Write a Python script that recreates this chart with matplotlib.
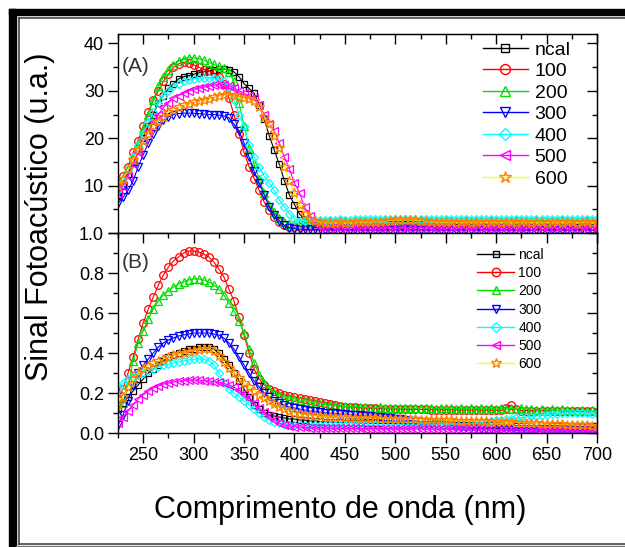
import numpy as np
import matplotlib.pyplot as plt
from matplotlib.lines import Line2D
from matplotlib.patches import Rectangle
from matplotlib.ticker import MultipleLocator

plt.rcParams['font.family'] = ['Liberation Sans', 'DejaVu Sans']

# wavelength grid (nm), one point every 5 nm
wl = np.arange(225, 701, 5)
labels = ['ncal', '100', '200', '300', '400', '500', '600']

# ---- panel (A) ----
ncal_A = [8.0, 10.0, 12.5, 15.0, 17.5, 20.0, 22.5, 25.0, 27.5, 29.0, 30.5, 31.5, 32.5, 33.0, 33.2, 33.5,
          33.8, 34.0, 34.2, 34.5, 34.6, 34.6, 34.4, 34.0, 33.0, 31.5, 30.5, 29.5, 27.0, 24.0, 20.5, 17.5,
          14.5, 11.0, 8.0, 6.0, 4.0, 3.0, 2.2, 1.8,
          1.8, 1.7, 1.7, 1.8, 1.7, 1.8, 1.8, 1.7, 1.8, 1.9, 1.8, 1.9, 1.9, 1.8, 1.9, 2.0,
          1.9, 2.0, 1.9, 1.9, 1.8, 1.9, 1.9, 1.8, 1.9, 1.9, 1.8, 1.8, 1.9, 1.8, 1.9, 1.8,
          1.8, 1.9, 1.8, 1.8, 1.9, 1.8, 1.8, 1.9, 1.8, 1.8, 1.9, 1.8, 1.8, 1.9, 1.8, 1.8,
          1.8, 1.9, 1.8, 1.8, 1.8, 1.9, 1.8, 1.8]
c100_A = [10.5, 12.0, 14.0, 17.0, 19.5, 22.5, 25.5, 28.0, 30.0, 32.0, 33.5, 35.0, 35.7, 36.0, 35.8, 35.5,
          35.0, 34.5, 34.2, 33.8, 33.0, 31.5, 28.5, 25.0, 21.0, 17.0, 14.0, 11.5, 9.0, 6.5, 4.8, 3.3,
          2.3, 1.6, 1.2, 1.2, 1.3, 1.4, 1.5, 1.5,
          1.5, 1.5, 1.4, 1.5, 1.5, 1.4, 1.5, 1.5, 1.5, 1.4, 1.5, 1.5, 1.5, 1.6, 1.5, 1.5,
          1.6, 1.5, 1.5, 1.6, 1.5, 1.5, 1.5, 1.6, 1.5, 1.5, 1.5, 1.5, 1.6, 1.5, 1.5, 1.5,
          1.5, 1.6, 1.5, 1.5, 1.5, 1.5, 1.6, 1.5, 1.5, 1.5, 1.5, 1.6, 1.5, 1.5, 1.5, 1.5,
          1.6, 1.5, 1.5, 1.5, 1.5, 1.6, 1.5, 1.5]
c200_A = [9.5, 11.5, 13.5, 16.0, 19.0, 22.0, 25.0, 28.0, 31.0, 33.0, 34.5, 35.5, 36.3, 36.8, 37.0, 37.0,
          36.8, 36.5, 36.0, 35.6, 35.2, 34.8, 34.0, 32.0, 27.5, 22.5, 18.0, 14.5, 11.5, 8.5, 6.0, 4.5,
          3.2, 2.4, 2.0, 2.0, 2.1, 2.2, 2.3, 2.3,
          2.4, 2.4, 2.5, 2.4, 2.5, 2.5, 2.4, 2.5, 2.5, 2.6, 2.5, 2.6, 2.6, 2.6, 2.7, 2.6,
          2.7, 2.7, 2.6, 2.6, 2.7, 2.6, 2.6, 2.6, 2.6, 2.7, 2.6, 2.6, 2.6, 2.7, 2.6, 2.6,
          2.6, 2.6, 2.7, 2.6, 2.6, 2.6, 2.6, 2.7, 2.6, 2.6, 2.6, 2.7, 2.6, 2.6, 2.6, 2.6,
          2.7, 2.6, 2.6, 2.6, 2.6, 2.7, 2.6, 2.6]
c300_A = [6.3, 7.5, 9.0, 11.0, 14.0, 16.5, 19.0, 21.0, 22.5, 23.8, 24.5, 25.0, 25.2, 25.3, 25.3, 25.3,
          25.2, 25.1, 25.0, 25.0, 24.9, 24.7, 24.3, 23.0, 21.5, 19.0, 16.0, 13.0, 10.5, 8.0, 5.5, 3.8,
          2.6, 1.6, 1.1, 0.9, 0.8, 0.8, 0.8, 0.8,
          0.8, 0.7, 0.7, 0.8, 0.7, 0.7, 0.7, 0.8, 0.7, 0.7, 0.7, 0.7, 0.8, 0.7, 0.7, 0.7,
          0.7, 0.8, 0.7, 0.7, 0.7, 0.7, 0.7, 0.8, 0.7, 0.7, 0.7, 0.7, 0.7, 0.8, 0.7, 0.7,
          0.7, 0.7, 0.7, 0.8, 0.7, 0.7, 0.7, 0.7, 0.8, 0.7, 0.7, 0.7, 0.7, 0.7, 0.8, 0.7,
          0.7, 0.7, 0.7, 0.7, 0.8, 0.7, 0.7, 0.7]
c400_A = [9.0, 11.0, 13.5, 16.0, 18.5, 21.0, 23.5, 25.5, 27.5, 29.0, 30.0, 31.0, 31.5, 32.0, 32.3, 32.5,
          32.7, 32.8, 32.8, 32.7, 32.5, 32.0, 30.5, 28.0, 25.0, 22.5, 18.5, 16.0, 14.0, 12.0, 10.5, 9.0,
          7.0, 5.5, 4.0, 3.0, 2.6, 2.6, 2.7, 2.7,
          2.7, 2.8, 2.8, 2.8, 2.9, 2.8, 2.8, 2.9, 2.9, 2.9, 2.9, 3.0, 2.9, 3.0, 3.0, 2.9,
          3.0, 3.0, 2.9, 3.0, 3.0, 2.9, 3.0, 3.0, 2.9, 3.0, 3.0, 3.0, 2.9, 3.0, 3.0, 2.9,
          3.0, 3.0, 3.0, 2.9, 3.0, 3.0, 2.9, 3.0, 3.0, 3.0, 2.9, 3.0, 3.0, 3.0, 2.9, 3.0,
          3.0, 2.9, 3.0, 3.0, 3.0, 2.9, 3.0, 3.0]
c500_A = [8.5, 10.0, 12.0, 14.5, 17.0, 19.5, 21.5, 23.5, 25.0, 26.5, 27.5, 28.5, 29.0, 29.5, 30.0, 30.3,
          30.6, 30.8, 31.0, 31.2, 31.3, 31.3, 31.0, 30.6, 30.0, 29.5, 29.0, 28.5, 27.0, 25.0, 23.0, 21.5,
          19.0, 16.0, 13.5, 10.5, 8.5, 5.5, 3.5, 2.2,
          1.2, 1.1, 1.1, 1.2, 1.1, 1.1, 1.1, 1.2, 1.1, 1.1, 1.2, 1.1, 1.1, 1.1, 1.2, 1.1,
          1.1, 1.2, 1.1, 1.1, 1.1, 1.1, 1.2, 1.1, 1.1, 1.1, 1.2, 1.1, 1.1, 1.2, 1.1, 1.1,
          1.2, 1.1, 1.1, 1.1, 1.2, 1.1, 1.1, 1.2, 1.1, 1.1, 1.2, 1.1, 1.2, 1.1, 1.1, 1.2,
          1.1, 1.2, 1.1, 1.1, 1.2, 1.1, 1.2, 1.1]
c600_A = [10.0, 11.5, 13.5, 15.5, 17.5, 19.5, 21.0, 22.5, 23.5, 24.5, 25.5, 26.0, 26.5, 27.0, 27.3, 27.6,
          27.8, 28.0, 28.3, 28.6, 29.0, 29.2, 29.2, 29.0, 28.7, 28.5, 28.3, 27.8, 26.5, 24.5, 23.0, 20.5,
          18.0, 14.0, 11.0, 8.5, 6.0, 4.0, 3.0, 2.5,
          2.3, 2.2, 2.2, 2.2, 2.3, 2.2, 2.2, 2.3, 2.3, 2.3, 2.3, 2.4, 2.4, 2.5, 2.6, 2.7,
          2.8, 2.8, 2.8, 2.7, 2.6, 2.5, 2.4, 2.3, 2.3, 2.3, 2.3, 2.2, 2.3, 2.3, 2.2, 2.3,
          2.3, 2.2, 2.3, 2.3, 2.2, 2.3, 2.3, 2.2, 2.3, 2.3, 2.2, 2.3, 2.3, 2.2, 2.3, 2.3,
          2.2, 2.3, 2.3, 2.2, 2.3, 2.3, 2.2, 2.3]

# ---- panel (B) ----
ncal_B = [0.12, 0.15, 0.18, 0.21, 0.24, 0.27, 0.30, 0.32, 0.34, 0.36, 0.38, 0.39, 0.40, 0.41, 0.42, 0.42,
          0.43, 0.43, 0.43, 0.42, 0.40, 0.37, 0.34, 0.30, 0.26, 0.22, 0.18, 0.14, 0.12, 0.10, 0.09, 0.085,
          0.08, 0.075, 0.07, 0.07, 0.065, 0.065, 0.06, 0.06,
          .058, .056, .055, .054, .053, .052, .052, .051, .050, .050, .049, .048, .048, .047, .047, .046,
          .046, .045, .045, .045, .044, .044, .043, .043, .043, .042, .042, .041, .041, .041, .040, .040,
          .040, .039, .039, .039, .038, .038, .038, .037, .037, .037, .037, .036, .036, .036, .036, .035,
          .035, .035, .035, .034, .034, .034, .034, .033]
c100_B = [0.17, 0.22, 0.30, 0.38, 0.47, 0.55, 0.62, 0.68, 0.74, 0.79, 0.83, 0.86, 0.88, 0.90, 0.91, 0.91,
          0.905, 0.895, 0.88, 0.855, 0.82, 0.78, 0.72, 0.66, 0.58, 0.49, 0.40, 0.32, 0.27, 0.24, 0.22, 0.21,
          0.20, 0.19, 0.185, 0.18, 0.175, 0.17, 0.165, 0.16,
          .155, .15, .145, .14, .135, .132, .13, .128, .126, .125, .124, .123, .122, .121, .12, .12,
          .12, .119, .119, .118, .118, .118, .117, .117, .117, .116, .116, .116, .115, .115, .115, .115,
          .114, .114, .114, .113, .113, .125, .14, .118, .112, .112, .112, .111, .111, .111, .11, .11,
          .11, .109, .109, .109, .108, .108, .108, .107]
c200_B = [0.10, 0.15, 0.24, 0.36, 0.45, 0.51, 0.57, 0.62, 0.66, 0.69, 0.71, 0.73, 0.745, 0.755, 0.765, 0.77,
          0.77, 0.765, 0.755, 0.74, 0.72, 0.69, 0.65, 0.61, 0.56, 0.50, 0.42, 0.35, 0.29, 0.25, 0.22, 0.20,
          0.19, 0.18, 0.175, 0.17, 0.165, 0.16, 0.155, 0.15,
          .145, .142, .14, .137, .135, .133, .132, .13, .13, .128, .127, .126, .128, .125, .127, .124,
          .126, .124, .125, .123, .127, .124, .126, .122, .125, .123, .126, .122, .124, .121, .125, .122,
          .124, .121, .123, .12, .124, .12, .122, .119, .123, .118, .121, .117, .12, .115, .119, .114,
          .118, .113, .117, .112, .115, .11, .113, .11]
c300_B = [0.04, 0.09, 0.16, 0.24, 0.30, 0.34, 0.37, 0.40, 0.43, 0.45, 0.465, 0.475, 0.485, 0.49, 0.495, 0.50,
          0.50, 0.50, 0.50, 0.495, 0.49, 0.475, 0.45, 0.42, 0.38, 0.34, 0.30, 0.26, 0.23, 0.20, 0.18, 0.16,
          0.15, 0.14, 0.13, 0.125, 0.12, 0.115, 0.11, 0.11,
          .105, .102, .10, .098, .096, .094, .092, .09, .088, .086, .084, .082, .08, .077, .074, .071,
          .068, .065, .062, .059, .056, .053, .05, .047, .044, .041, .038, .035, .032, .03, .027, .025,
          .022, .02, .018, .016, .015, .014, .013, .012, .011, .011, .01, .01, .01, .01, .01, .01,
          .01, .01, .01, .01, .01, .01, .01, .01]
c400_B = [0.22, 0.25, 0.27, 0.28, 0.29, 0.30, 0.31, 0.32, 0.33, 0.34, 0.345, 0.35, 0.355, 0.36, 0.365, 0.37,
          0.37, 0.37, 0.36, 0.34, 0.30, 0.25, 0.22, 0.20, 0.18, 0.16, 0.14, 0.12, 0.10, 0.08, 0.065, 0.055,
          0.048, 0.045, 0.042, 0.04, 0.04, 0.04, 0.04, 0.04,
          .04, .04, .039, .039, .039, .038, .038, .038, .038, .038, .038, .038, .038, .038, .039, .039,
          .039, .039, .04, .04, .04, .04, .041, .041, .042, .042, .043, .044, .045, .047, .049, .051,
          .054, .057, .06, .063, .066, .069, .072, .075, .078, .08, .083, .085, .088, .09, .093, .095,
          .098, .1, .1, .102, .1, .098, .096, .095]
c500_B = [0.05, 0.08, 0.11, 0.14, 0.17, 0.19, 0.21, 0.225, 0.235, 0.245, 0.25, 0.255, 0.26, 0.262, 0.265, 0.265,
          0.265, 0.262, 0.26, 0.257, 0.253, 0.248, 0.24, 0.23, 0.215, 0.195, 0.175, 0.15, 0.125, 0.105, 0.085, 0.065,
          0.05, 0.04, 0.035, 0.032, 0.03, 0.028, 0.027, 0.026,
          .025, .025, .024, .024, .024, .023, .023, .023, .023, .022, .022, .022, .022, .021, .021, .021,
          .021, .021, .02, .02, .02, .02, .02, .02, .019, .019, .019, .019, .019, .019, .018, .018,
          .018, .018, .018, .018, .017, .017, .017, .017, .017, .017, .016, .016, .016, .016, .016, .016,
          .016, .015, .015, .015, .015, .015, .015, .015]
c600_B = [0.14, 0.18, 0.23, 0.27, 0.30, 0.32, 0.335, 0.35, 0.36, 0.37, 0.38, 0.39, 0.395, 0.40, 0.405, 0.41,
          0.415, 0.42, 0.42, 0.41, 0.385, 0.355, 0.325, 0.30, 0.275, 0.25, 0.23, 0.21, 0.19, 0.175, 0.16, 0.145,
          0.13, 0.12, 0.11, 0.10, 0.095, 0.09, 0.088, 0.086,
          .084, .082, .081, .08, .079, .078, .077, .076, .075, .075, .074, .073, .072, .072, .071, .07,
          .07, .069, .068, .068, .067, .066, .066, .065, .064, .064, .063, .062, .062, .061, .06, .06,
          .059, .058, .057, .056, .055, .054, .053, .052, .051, .05, .049, .048, .047, .046, .045, .044,
          .043, .042, .041, .04, .039, .038, .037, .036]

series_A = [ncal_A, c100_A, c200_A, c300_A, c400_A, c500_A, c600_A]
series_B = [ncal_B, c100_B, c200_B, c300_B, c400_B, c500_B, c600_B]

line_colors = ['#000000', '#FF0000', '#00E000', '#0000FF', '#00FFFF', '#FF00FF', '#FFFF00']
mark_colors = ['#000000', '#FF0000', '#00E000', '#0000FF', '#00FFFF', '#FF00FF', '#FF8000']
markers = ['s', 'o', '^', 'v', 'D', '<', '*']
msizes = [4.5, 5.5, 5.5, 5.5, 4.5, 5.5, 7]

W, H = 625, 547
fig = plt.figure(figsize=(W / 100, H / 100), dpi=100)


def box(l, t, r, b):
    return [l / W, 1 - b / H, (r - l) / W, (b - t) / H]


axA = fig.add_axes(box(118, 34, 597, 233))
axB = fig.add_axes(box(118, 233, 597, 433))

for ax, data in ((axA, series_A), (axB, series_B)):
    for y, lc, mc, m, ms in zip(data, line_colors, mark_colors, markers, msizes):
        ax.plot(wl, y, color=lc, lw=0.8, marker=m, ms=ms, mfc='none', mec=mc, mew=0.9)
    ax.set_xlim(225, 700)
    ax.set_xticks(np.arange(250, 701, 50))
    ax.xaxis.set_minor_locator(MultipleLocator(25))
    ax.tick_params(which='major', direction='out', length=7, width=1, labelsize=13, pad=3)
    ax.tick_params(which='minor', direction='out', length=3.5, width=1)
    for s in ax.spines.values():
        s.set_linewidth(1)
    top = ax.secondary_xaxis('top')
    top.set_xticks(np.arange(250, 701, 50))
    top.xaxis.set_minor_locator(MultipleLocator(25))
    top.tick_params(which='major', direction='in', length=7, width=1, labeltop=False)
    top.tick_params(which='minor', direction='in', length=3.5, width=1)
    right = ax.secondary_yaxis('right')
    right.tick_params(which='major', direction='in', length=7, width=1, labelright=False)
    right.tick_params(which='minor', direction='in', length=3.5, width=1)
    ax._right = right

axA.set_ylim(0, 42)
axA.set_yticks([0, 10, 20, 30, 40])
axA.set_yticklabels(['', '10', '20', '30', '40'])
axA.yaxis.set_minor_locator(MultipleLocator(5))
axA._right.set_yticks([0, 10, 20, 30, 40])
axA._right.yaxis.set_minor_locator(MultipleLocator(5))
axA.tick_params(labelbottom=False)

axB.set_ylim(0, 1.0)
axB.set_yticks(np.arange(0, 1.01, 0.2))
axB.set_yticklabels(['0.0', '0.2', '0.4', '0.6', '0.8', '1.0'])
axB.yaxis.set_minor_locator(MultipleLocator(0.1))
axB._right.set_yticks(np.arange(0, 1.01, 0.2))
axB._right.yaxis.set_minor_locator(MultipleLocator(0.1))


def handles(scale):
    return [Line2D([], [], color=lc, lw=1, marker=m, ms=ms * scale, mfc='none', mec=mc, mew=1)
            for lc, mc, m, ms in zip(line_colors, mark_colors, markers, msizes)]


axA.legend(handles(1.3), labels, loc='upper left', bbox_to_anchor=(0.762, 0.965), frameon=False,
           fontsize=14, handlelength=2.3, handletextpad=0.35, labelspacing=0.2,
           borderpad=0, borderaxespad=0)
axB.legend(handles(1.1), labels, loc='upper left', bbox_to_anchor=(0.749, 0.925), frameon=False,
           fontsize=10, handlelength=2.7, handletextpad=0.3, labelspacing=0.3,
           borderpad=0, borderaxespad=0)

fig.text(122 / W, 1 - 66 / H, '(A)', fontsize=15, va='center', ha='left', color='#333333')
fig.text(122 / W, 1 - 263 / H, '(B)', fontsize=15, va='center', ha='left', color='#333333')
fig.text(40 / W, 1 - 217 / H, 'Sinal Fotoacústico (u.a.)', fontsize=22, rotation=90,
         va='center', ha='center')
fig.text(340 / W, 1 - 510 / H, 'Comprimento de onda (nm)', fontsize=22, va='center', ha='center')

# page frame around the figure
fig.patches.append(Rectangle((9 / W, 0), 7 / W, 1 - 9 / H, transform=fig.transFigure, color='black'))
fig.patches.append(Rectangle((9 / W, 1 - 15 / H), 1, 6 / H, transform=fig.transFigure, color='black'))
fig.add_artist(Line2D([18.5 / W, 18.5 / W], [1 - 17.5 / H, 1 - 543.5 / H], color='#444444', lw=1.2))
fig.add_artist(Line2D([18.5 / W, 1], [1 - 17.5 / H, 1 - 17.5 / H], color='#444444', lw=1.2))
fig.add_artist(Line2D([18.5 / W, 1], [1 - 543.5 / H, 1 - 543.5 / H], color='#444444', lw=1.2))
fig.add_artist(Line2D([16 / W, 1], [1 - 546 / H, 1 - 546 / H], color='#777777', lw=1.0))

fig.savefig('out.png', dpi=100)
